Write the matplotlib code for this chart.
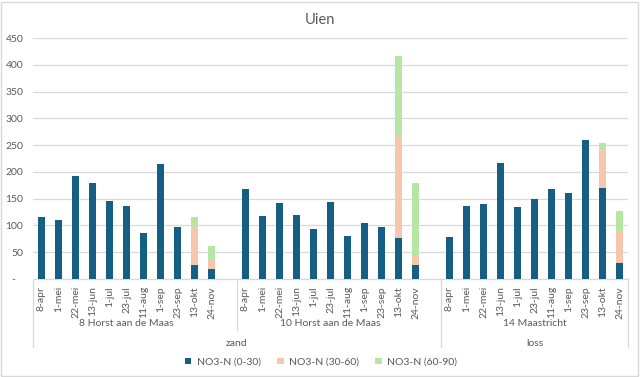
import matplotlib.pyplot as plt
import numpy as np
from matplotlib.transforms import blended_transform_factory
from matplotlib.patches import Rectangle

# Data
dates = ["8-apr", "1-mei", "22-mei", "13-jun", "1-jul", "23-jul",
         "11-aug", "1-sep", "23-sep", "13-okt", "24-nov"]
locations = ["8 Horst aan de Maas", "10 Horst aan de Maas", "14 Maastricht"]
soils = ["zand", "loss"]
series_names = ["NO3-N (0-30)", "NO3-N (30-60)", "NO3-N (60-90)"]

horst8_0_30 = [115, 111, 192, 180, 145, 136, 86, 214, 97, 27, 18]
horst8_30_60 = [0, 0, 0, 0, 0, 0, 0, 0, 0, 69, 19]
horst8_60_90 = [0, 0, 0, 0, 0, 0, 0, 0, 0, 19, 25]

horst10_0_30 = [168, 118, 141, 120, 93, 143, 81, 104, 98, 77, 26]
horst10_30_60 = [0, 0, 0, 0, 0, 0, 0, 0, 0, 192, 17]
horst10_60_90 = [0, 0, 0, 0, 0, 0, 0, 0, 0, 147, 136]

maas14_0_30 = [79, 136, 140, 217, 135, 150, 168, 161, 259, 170, 29]
maas14_30_60 = [0, 0, 0, 0, 0, 0, 0, 0, 0, 72, 59]
maas14_60_90 = [0, 0, 0, 0, 0, 0, 0, 0, 0, 12, 39]

colors = ["#156082", "#F6C6AD", "#B5E6A2"]
txt = "#595959"
line_c = "#D9D9D9"

plt.rcParams["font.family"] = ["Lato", "DejaVu Sans"]

fig = plt.figure(figsize=(6.4, 3.77), dpi=100)
ax = fig.add_axes([33 / 640, 1 - 279 / 377, 595 / 640, 241 / 377])

groups = [
    (horst8_0_30, horst8_30_60, horst8_60_90),
    (horst10_0_30, horst10_30_60, horst10_60_90),
    (maas14_0_30, maas14_30_60, maas14_60_90),
]
# each location gets 11 slots, the first two followed by one empty slot
starts = [0, 12, 24]
xticks, xlabels = [], []
for start, (a, b, c) in zip(starts, groups):
    x = np.arange(len(dates)) + start
    a, b, c = np.array(a), np.array(b), np.array(c)
    ax.bar(x, a, width=0.42, color=colors[0], label=series_names[0] if start == 0 else None, zorder=3)
    ax.bar(x, b, width=0.42, bottom=a, color=colors[1], label=series_names[1] if start == 0 else None, zorder=3)
    ax.bar(x, c, width=0.42, bottom=a + b, color=colors[2], label=series_names[2] if start == 0 else None, zorder=3)
    xticks += list(x)
    xlabels += dates

ax.set_xlim(-0.5, 34.5)
ax.set_ylim(0, 450)
ax.set_yticks(range(0, 451, 50))
ax.set_yticklabels(["-   "] + [str(v) for v in range(50, 451, 50)])
ax.yaxis.grid(True, color=line_c, lw=0.9, zorder=0)
for s in ["top", "right", "left"]:
    ax.spines[s].set_visible(False)
ax.spines["bottom"].set_color(line_c)
ax.spines["bottom"].set_linewidth(0.9)
ax.set_xticks(xticks)
ax.set_xticklabels(xlabels, rotation=90, va="top", ha="center")
ax.tick_params(axis="both", length=0, labelsize=7.5, labelcolor=txt)
ax.tick_params(axis="x", pad=5)
ax.tick_params(axis="y", pad=7)

trans = blended_transform_factory(ax.transData, fig.transFigure)


def fy(py):
    return 1 - py / 377


# separators of the multi-level category axis
for xs, bottom_px in [(-0.5, 347), (11.5, 330), (23.5, 347), (34.5, 347)]:
    ax.plot([xs, xs], [fy(280), fy(bottom_px)], color=line_c, lw=0.9,
            transform=trans, clip_on=False)

for start, name in zip(starts, locations):
    ax.text(start + 5, fy(324), name, transform=trans, ha="center", va="center",
            fontsize=7.5, color=txt)
ax.text(11.5, fy(343), soils[0], transform=trans, ha="center", va="center", fontsize=7.5, color=txt)
ax.text(29, fy(343), soils[1], transform=trans, ha="center", va="center", fontsize=7.5, color=txt)

fig.text(0.5, fy(20), "Uien", ha="center", va="center", fontsize=10.5, color=txt)

fig.legend(loc="center", bbox_to_anchor=(321 / 640, fy(362)), ncol=3, frameon=False,
           fontsize=7.5, labelcolor=txt, handlelength=0.6, handleheight=0.6,
           handletextpad=0.5, columnspacing=1.6)

fig.patches.append(Rectangle((1 / 640, 1 / 377), 637 / 640, 374 / 377, transform=fig.transFigure,
                             fill=False, edgecolor=line_c, lw=1))

fig.savefig("out.png", dpi=100)
